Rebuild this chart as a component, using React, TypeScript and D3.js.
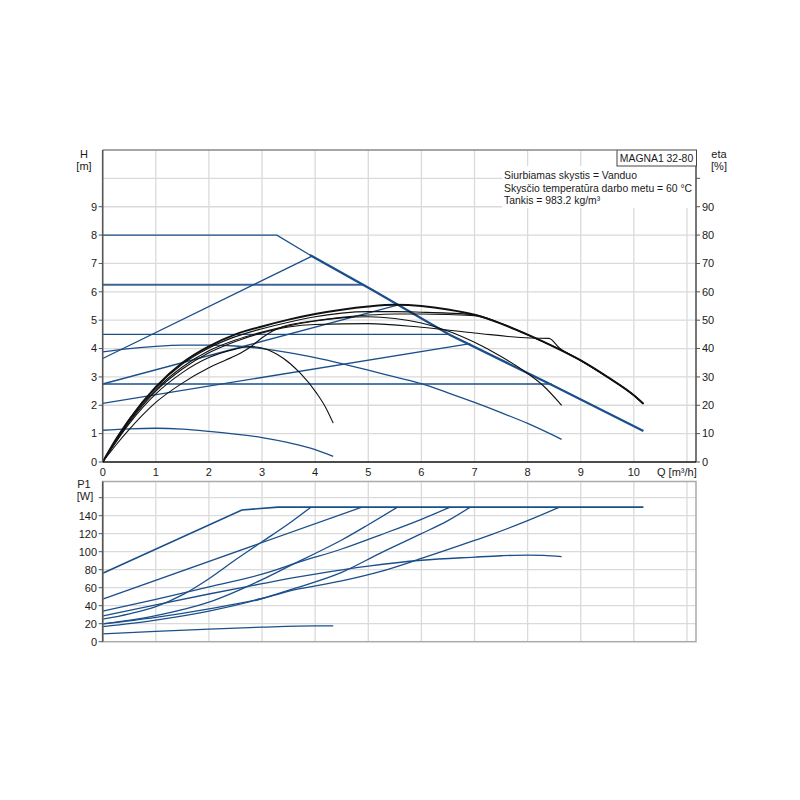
import React from 'react';
import * as d3 from 'd3';

type Pt = [number, number];

// axis ticks
const qTicks = [0, 1, 2, 3, 4, 5, 6, 7, 8, 9, 10];
const hTicks = [0, 1, 2, 3, 4, 5, 6, 7, 8, 9];
const etaTicks = [0, 10, 20, 30, 40, 50, 60, 70, 80, 90];
const p1Ticks = [0, 20, 40, 60, 80, 100, 120, 140];

const pumpName = 'MAGNA1 32-80';
const infoLines = [
  'Siurbiamas skystis = Vanduo',
  'Skysčio temperatūra darbo metu = 60 °C',
  'Tankis = 983.2 kg/m³',
];

// H curves [Q m3/h, H m]
const hMax: Pt[] = [[0, 8], [3.28, 8], [3.9, 7.3], [5.07, 6.07], [6.54, 4.48], [8.43, 2.74], [10.18, 1.09]];
const hCpA: Pt[] = [[0, 6.25], [4.9, 6.25]];
const hCpB: Pt[] = [[0, 4.5], [6.52, 4.5]];
const hCpC: Pt[] = [[0, 2.75], [8.45, 2.75]];
const hPpA: Pt[] = [[0, 3.65], [3.95, 7.27]];
const hPpB: Pt[] = [[0, 2.75], [5.55, 5.53]];
const hPpC: Pt[] = [[0, 2.07], [6.92, 4.17]];
const hConstA: Pt[] = [[0, 3.88], [0.5, 4.0], [1, 4.08], [1.5, 4.12], [2, 4.12], [2.5, 4.09], [3, 4.0], [3.5, 3.86], [4, 3.68], [4.5, 3.47], [5, 3.24], [5.5, 3.0], [6, 2.76], [6.5, 2.44], [7, 2.1], [7.5, 1.74], [8, 1.36], [8.64, 0.8]];
const hConstB: Pt[] = [[0, 1.12], [0.5, 1.17], [1, 1.19], [1.5, 1.16], [2, 1.08], [2.5, 0.98], [3, 0.86], [3.5, 0.68], [4, 0.44], [4.34, 0.2]];

// eta curves [Q m3/h, eta %]
const etaMax: Pt[] = [[0, 0], [0.25, 8], [0.5, 15], [1, 26.5], [1.5, 35], [2, 40.8], [2.5, 45], [3, 47.8], [3.5, 50.2], [4, 52.2], [4.5, 53.7], [5, 54.8], [5.5, 55.4], [6, 55], [6.5, 53.8], [7, 51.9], [7.5, 48.8], [8, 44.9], [8.5, 40.6], [9, 35.8], [9.5, 30], [10, 23.5], [10.18, 20.5]];
const etaConstA: Pt[] = [[0, 0], [0.5, 14.5], [1, 25.5], [1.5, 33.5], [2, 39.2], [2.5, 43], [3, 45.8], [3.5, 48], [4, 49.7], [4.5, 50.8], [5, 51.2], [5.5, 50.6], [6, 49], [6.5, 46.2], [7, 42.2], [7.5, 37.2], [8, 31.2], [8.3, 26.8], [8.64, 20]];
const etaCpC: Pt[] = [[0, 0], [0.5, 14], [1, 25], [1.5, 32.8], [2, 38.5], [2.5, 42.5], [3, 45.5], [3.5, 47.6], [4, 48.5], [5, 48.8], [6, 47.5], [7, 45.5], [8.05, 43.7], [8.4, 43.6], [8.6, 40.2], [9, 35.8], [9.5, 30], [10, 23.5], [10.18, 20.5]];
const etaConstB: Pt[] = [[0, 0], [0.5, 13.5], [1, 24], [1.5, 31.5], [2, 36.8], [2.5, 39.8], [2.78, 40.7], [3, 40.2], [3.2, 38.8], [3.4, 36.6], [3.72, 31.3], [4.03, 24.2], [4.19, 19.5], [4.34, 13.7]];
const etaPpA: Pt[] = [[0, 0], [0.25, 6], [0.5, 11.5], [1, 21], [1.5, 27.8], [2, 33.2], [2.3, 35.8], [2.6, 38.4], [2.8, 40.8], [3, 43.8], [3.2, 46.2], [3.4, 47.8], [3.7, 49], [4, 49.8], [4.5, 51], [5, 51.8], [5.5, 52.2], [6, 52.2], [6.5, 52], [7, 51.6], [7.5, 48.8], [8, 44.9], [8.5, 40.6], [9, 35.8], [9.5, 30], [10, 23.5], [10.18, 20.5]];
const etaCpA: Pt[] = [[0, 0], [0.5, 15], [1, 26.2], [1.5, 34.5], [2, 40.2], [2.5, 44.2], [3, 47], [3.5, 49.3], [4, 51.2], [4.5, 52.5], [5, 53], [5.5, 53], [6, 52.8], [6.5, 52.5], [7, 51.9], [7.5, 48.8], [8, 44.9], [8.5, 40.6], [9, 35.8], [9.5, 30], [10, 23.5], [10.18, 20.5]];

// P1 curves [Q m3/h, P1 W]
const pMax: Pt[] = [[0, 76], [2.62, 146.3], [3.3, 149.5], [10.18, 149.5]];
const pCpA: Pt[] = [[0, 47.4], [4.88, 149.5]];
const pPpA: Pt[] = [[0, 25], [0.5, 31], [1, 39], [1.5, 52], [2, 70], [2.5, 91], [3, 111], [3.5, 131], [3.92, 149.5]];
const pCpB: Pt[] = [[0, 34.1], [1, 47], [2, 61], [3, 75], [3.72, 88.9], [4.5, 103], [5.22, 118.5], [6, 136], [6.54, 149.5]];
const pPpB: Pt[] = [[0, 19.7], [1, 29], [2, 44], [3, 69], [3.53, 84.5], [4, 98], [4.5, 113], [5, 130], [5.55, 149.5]];
const pCpC: Pt[] = [[0, 19.7], [1, 27], [2, 36.5], [3, 48], [3.6, 57.5], [4.5, 67.5], [5.22, 77.8], [6, 92.5], [7, 112.5], [7.29, 118.5], [8, 134.5], [8.6, 149.5]];
const pPpC: Pt[] = [[0, 16.7], [1, 24], [2, 34], [3, 48], [3.6, 59], [4.5, 77], [5.22, 98.2], [6, 120], [6.5, 134.5], [6.92, 149.5]];
const pConstA: Pt[] = [[0, 28.5], [1, 41], [2, 53], [3, 64.5], [3.6, 71.2], [4, 75.2], [5, 84], [6, 90.5], [7, 94], [7.5, 95.5], [8, 96.3], [8.3, 96], [8.64, 94.5]];
const pConstB: Pt[] = [[0, 8.6], [1, 11.5], [2, 14], [3, 16.2], [4, 17.6], [4.34, 17.6]];

const BLUE = '#1b4f8a';
const GRID = '#dadada';
const FONT = "'Liberation Sans', Arial, sans-serif";

export default function App() {
  const left = 102.7;
  const right = 696;
  const topH = 150;
  const botH = 462;
  const topP = 481.5;
  const botP = 641.7;

  const x = d3.scaleLinear().domain([0, 11.17]).range([left, right]);
  const yH = d3.scaleLinear().domain([0, 11]).range([botH, topH]);
  const yEta = d3.scaleLinear().domain([0, 110]).range([botH, topH]);
  const yP = d3.scaleLinear().domain([0, 178]).range([botP, topP]);

  const smoothH = d3.line<Pt>().x(d => x(d[0])).y(d => yH(d[1])).curve(d3.curveMonotoneX);
  const straightH = d3.line<Pt>().x(d => x(d[0])).y(d => yH(d[1]));
  const smoothEta = d3.line<Pt>().x(d => x(d[0])).y(d => yEta(d[1])).curve(d3.curveMonotoneX);
  const smoothP = d3.line<Pt>().x(d => x(d[0])).y(d => yP(d[1])).curve(d3.curveMonotoneX);
  const straightP = d3.line<Pt>().x(d => x(d[0])).y(d => yP(d[1]));

  const qGrid = d3.range(1, 12);
  const hGrid = d3.range(1, 11);
  const pGrid = d3.range(20, 161, 20);

  const hStraight = [hCpA, hCpB, hCpC, hPpA, hPpB, hPpC];
  const hCurved = [hConstA, hConstB];
  const etaThin = [etaConstA, etaCpC, etaConstB, etaPpA, etaCpA];
  const pCurves = [pPpA, pCpB, pPpB, pCpC, pPpC, pConstA, pConstB];

  const maxFlat = hMax.filter(d => d[0] <= 3.9);
  const maxSteep = hMax.filter(d => d[0] >= 3.9);

  const txt = { fontFamily: FONT, fontSize: 11, fill: '#1a1a1a' };
  const infoTxt = { fontFamily: FONT, fontSize: 10.4, fill: '#1a1a1a' };

  return (
    <svg width={800} height={800} style={{ position: 'absolute', left: 0, top: 0, background: '#fff' }}>
      <rect x={0} y={0} width={800} height={800} fill="#fff" />

      {/* upper chart grid */}
      {qGrid.map(q => (
        <line key={'qg' + q} x1={x(q)} x2={x(q)} y1={topH} y2={botH} stroke={GRID} strokeWidth={1.3} />
      ))}
      {hGrid.map(h => (
        <line key={'hg' + h} x1={left} x2={right} y1={yH(h)} y2={yH(h)} stroke={GRID} strokeWidth={1.3} />
      ))}

      {/* lower chart grid */}
      {qGrid.map(q => (
        <line key={'qpg' + q} x1={x(q)} x2={x(q)} y1={topP} y2={botP} stroke={GRID} strokeWidth={1.3} />
      ))}
      {pGrid.map(p => (
        <line key={'pg' + p} x1={left} x2={right} y1={yP(p)} y2={yP(p)} stroke={GRID} strokeWidth={1.3} />
      ))}

      {/* H curves */}
      {hStraight.map((c, i) => (
        <path key={'hs' + i} d={straightH(c) || ''} fill="none" stroke={c === hCpA ? '#3f6394' : BLUE}
          strokeWidth={c === hCpA ? 1.8 : 1.3} />
      ))}
      {hCurved.map((c, i) => (
        <path key={'hc' + i} d={smoothH(c) || ''} fill="none" stroke={BLUE} strokeWidth={1.3} />
      ))}
      <path d={straightH(maxFlat) || ''} fill="none" stroke={BLUE} strokeWidth={1.3} />
      <path d={straightH(maxSteep) || ''} fill="none" stroke={BLUE} strokeWidth={2.3} />

      {/* eta curves */}
      {etaThin.map((c, i) => (
        <path key={'e' + i} d={smoothEta(c) || ''} fill="none" stroke="#111" strokeWidth={1.1} />
      ))}
      <path d={smoothEta(etaMax) || ''} fill="none" stroke="#111" strokeWidth={2} />

      {/* P1 curves */}
      <path d={straightP(pMax) || ''} fill="none" stroke={BLUE} strokeWidth={1.6} />
      <path d={straightP(pCpA) || ''} fill="none" stroke={BLUE} strokeWidth={1.3} />
      {pCurves.map((c, i) => (
        <path key={'p' + i} d={smoothP(c) || ''} fill="none" stroke={BLUE} strokeWidth={1.3} />
      ))}

      {/* info box */}
      <rect x={502} y={166} width={194} height={42} fill="#fff" />
      {infoLines.map((t, i) => (
        <text key={'info' + i} x={504} y={179 + i * 12.7} {...infoTxt}>{t}</text>
      ))}
      <rect x={617} y={150} width={79.5} height={16} fill="#fff" stroke="#444" strokeWidth={1} />
      <text x={656.5} y={162} textAnchor="middle" {...infoTxt}>{pumpName}</text>

      {/* upper chart frame */}
      <line x1={left} x2={617} y1={topH} y2={topH} stroke="#888" strokeWidth={1.3} />
      <line x1={left} x2={left} y1={topH} y2={botH} stroke="#555" strokeWidth={1.6} />
      <line x1={right} x2={right} y1={166} y2={botH} stroke="#555" strokeWidth={1.6} />
      <line x1={left} x2={right} y1={botH} y2={botH} stroke="#111" strokeWidth={1.5} />

      {hTicks.map(h => (
        <g key={'ht' + h}>
          <line x1={left - 4} x2={left} y1={yH(h)} y2={yH(h)} stroke="#555" />
          <text x={97} y={yH(h)} dy="0.35em" textAnchor="end" {...txt}>{h}</text>
        </g>
      ))}
      {[...etaTicks, 100].map(e => (
        <line key={'etl' + e} x1={right} x2={right + 4} y1={yEta(e)} y2={yEta(e)} stroke="#555" />
      ))}
      {etaTicks.map(e => (
        <text key={'et' + e} x={702} y={yEta(e)} dy="0.35em" {...txt}>{e}</text>
      ))}
      {qTicks.map(q => (
        <text key={'qt' + q} x={x(q)} y={472} dy="0.35em" textAnchor="middle" {...txt}>{q}</text>
      ))}
      <text x={657} y={472} dy="0.35em" {...txt}>Q [m³/h]</text>

      <text x={84} y={158} textAnchor="middle" {...txt}>H</text>
      <text x={84} y={170} textAnchor="middle" {...txt}>[m]</text>
      <text x={719} y={158} textAnchor="middle" {...txt}>eta</text>
      <text x={719} y={170} textAnchor="middle" {...txt}>[%]</text>

      {/* lower chart frame */}
      <rect x={left} y={topP} width={right - left} height={botP - topP} fill="none" stroke="#aaa" strokeWidth={1.5} />
      <line x1={left} x2={left} y1={topP} y2={botP} stroke="#555" strokeWidth={1.6} />
      {[...p1Ticks, 160].map(p => (
        <line key={'ptl' + p} x1={left - 4} x2={left} y1={yP(p)} y2={yP(p)} stroke="#555" />
      ))}
      {p1Ticks.map(p => (
        <text key={'pt' + p} x={97} y={yP(p)} dy="0.35em" textAnchor="end" {...txt}>{p}</text>
      ))}
      <text x={84} y={488} textAnchor="middle" {...txt}>P1</text>
      <text x={85} y={500} textAnchor="middle" {...txt}>[W]</text>
    </svg>
  );
}
